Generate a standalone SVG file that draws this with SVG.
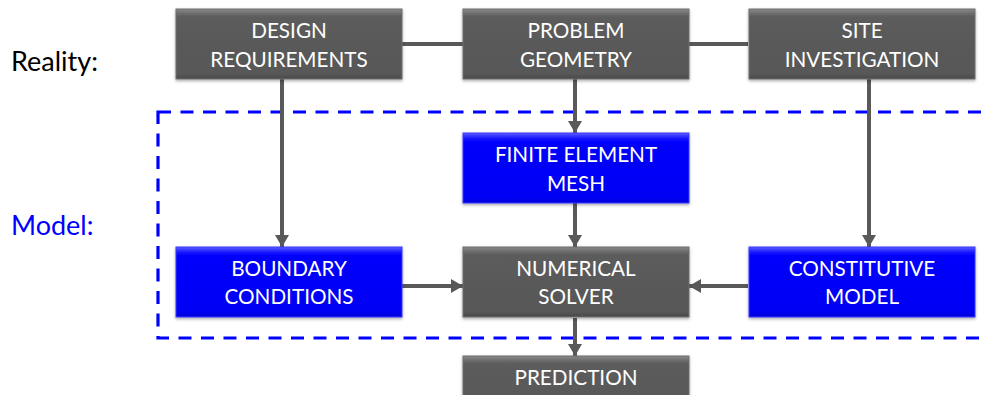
<svg xmlns="http://www.w3.org/2000/svg" width="984" height="395" viewBox="0 0 984 395">
<style>
.gray{fill:url(#gGray);stroke:#6e6e6e;stroke-width:1}
.blue{fill:url(#gBlue);stroke:#3a3aff;stroke-width:1}
.lbl{font-family:Lato,"Open Sans",sans-serif;font-size:20.7px;fill:#ffffff;text-anchor:middle}
.side{font-family:Lato,"Open Sans",sans-serif;font-size:27px}
.conn{stroke:#595959;stroke-width:4;fill:none}
</style>
<defs>
<linearGradient id="gGray" x1="0" y1="0" x2="0" y2="1">
<stop offset="0" stop-color="#8a8a8a"/>
<stop offset="0.07" stop-color="#6a6a6a"/>
<stop offset="0.12" stop-color="#5b5b5b"/>
<stop offset="0.92" stop-color="#585858"/>
<stop offset="1" stop-color="#4a4a4a"/>
</linearGradient>
<linearGradient id="gBlue" x1="0" y1="0" x2="0" y2="1">
<stop offset="0" stop-color="#5c5cff"/>
<stop offset="0.07" stop-color="#1c1cff"/>
<stop offset="0.12" stop-color="#0000fc"/>
<stop offset="0.92" stop-color="#0000f4"/>
<stop offset="1" stop-color="#0000d8"/>
</linearGradient>
<filter id="sh" x="-10%" y="-20%" width="120%" height="140%">
<feDropShadow dx="0" dy="1.5" stdDeviation="1.5" flood-color="#000" flood-opacity="0.35"/>
</filter>
<marker id="arr" viewBox="0 0 12 14" refX="12" refY="7" markerWidth="12" markerHeight="14" markerUnits="userSpaceOnUse" orient="auto">
<path d="M0,0 L12,7 L0,14 Z" fill="#595959"/>
</marker>
</defs>

<rect id="model-frame" x="158" y="112" width="860" height="226" fill="none" stroke="#0000ff" stroke-width="3.2" stroke-dasharray="13 9.5"/>

<text class="side" x="11" y="71" fill="#000000">Reality:</text>
<text class="side" x="11" y="235" fill="#0000ff">Model:</text>

<g id="connectors">
<line class="conn" x1="402" y1="44" x2="463" y2="44"/>
<line class="conn" x1="689" y1="44" x2="748" y2="44"/>
<line class="conn" x1="282" y1="79" x2="282" y2="247" marker-end="url(#arr)"/>
<line class="conn" x1="575" y1="79" x2="575" y2="133" marker-end="url(#arr)"/>
<line class="conn" x1="869" y1="79" x2="869" y2="247" marker-end="url(#arr)"/>
<line class="conn" x1="575" y1="203" x2="575" y2="247" marker-end="url(#arr)"/>
<line class="conn" x1="402" y1="286" x2="463" y2="286" marker-end="url(#arr)"/>
<line class="conn" x1="748" y1="286" x2="689" y2="286" marker-end="url(#arr)"/>
<line class="conn" x1="575" y1="318" x2="575" y2="356" marker-end="url(#arr)"/>
</g>

<g id="design-requirements">
<rect class="gray" x="176" y="9" width="226" height="70" filter="url(#sh)"/>
<text class="lbl" x="289" y="38">DESIGN</text>
<text class="lbl" x="289" y="67">REQUIREMENTS</text>
</g>
<g id="problem-geometry">
<rect class="gray" x="463" y="9" width="226" height="70" filter="url(#sh)"/>
<text class="lbl" x="576" y="38">PROBLEM</text>
<text class="lbl" x="576" y="67">GEOMETRY</text>
</g>
<g id="site-investigation">
<rect class="gray" x="749" y="9" width="226" height="70" filter="url(#sh)"/>
<text class="lbl" x="862" y="38">SITE</text>
<text class="lbl" x="862" y="67">INVESTIGATION</text>
</g>
<g id="finite-element-mesh">
<rect class="blue" x="463" y="133" width="226" height="70" filter="url(#sh)"/>
<text class="lbl" x="576" y="162">FINITE ELEMENT</text>
<text class="lbl" x="576" y="191">MESH</text>
</g>
<g id="boundary-conditions">
<rect class="blue" x="176" y="247" width="226" height="70" filter="url(#sh)"/>
<text class="lbl" x="289" y="276">BOUNDARY</text>
<text class="lbl" x="289" y="304">CONDITIONS</text>
</g>
<g id="numerical-solver">
<rect class="gray" x="463" y="247" width="226" height="70" filter="url(#sh)"/>
<text class="lbl" x="576" y="276">NUMERICAL</text>
<text class="lbl" x="576" y="304">SOLVER</text>
</g>
<g id="constitutive-model">
<rect class="blue" x="749" y="247" width="226" height="70" filter="url(#sh)"/>
<text class="lbl" x="862" y="276">CONSTITUTIVE</text>
<text class="lbl" x="862" y="304">MODEL</text>
</g>
<g id="prediction">
<rect class="gray" x="463" y="356" width="226" height="70" filter="url(#sh)"/>
<text class="lbl" x="576" y="385">PREDICTION</text>
</g>
</svg>
